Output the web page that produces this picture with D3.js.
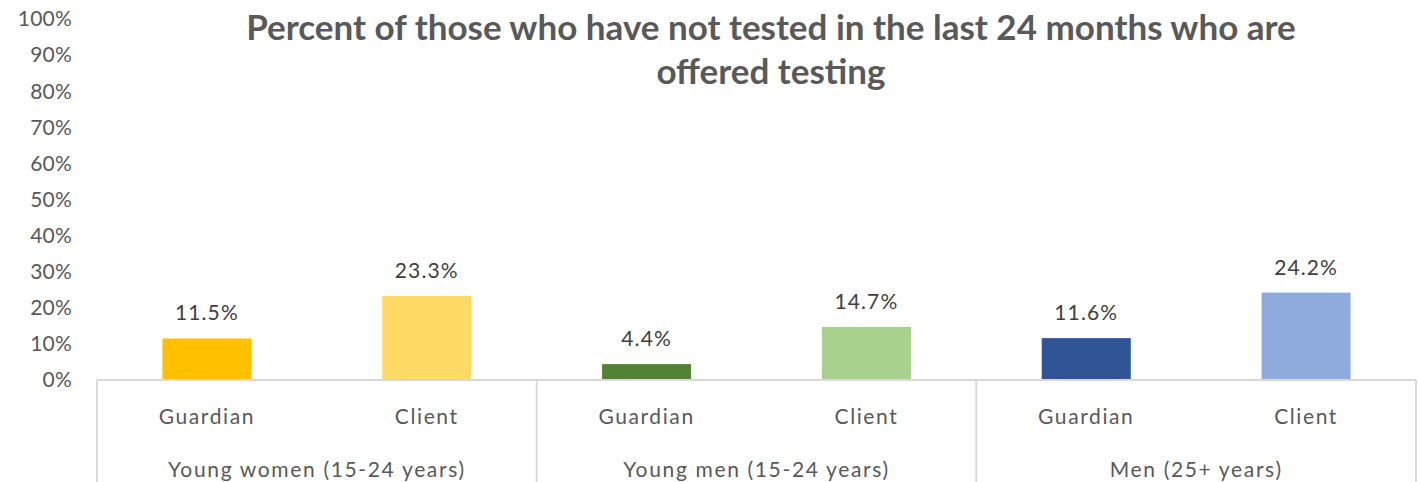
<!DOCTYPE html>
<html>
<head>
<meta charset="utf-8">
<script src="https://cdn.jsdelivr.net/npm/d3@7"></script>
<style>
  body { margin: 0; background: #fff; }
  svg text { font-family: Lato, "Open Sans", sans-serif; }
</style>
</head>
<body>
<svg id="chart" width="1419" height="482"></svg>
<script>
// chart data
const groups = ['Young women (15-24 years)', 'Young men (15-24 years)', 'Men (25+ years)'];
const roles = ['Guardian', 'Client'];
const values = [11.5, 23.3, 4.4, 14.7, 11.6, 24.2];
const colors = ['#FFC000', '#FFD966', '#548235', '#A9D18E', '#2F5597', '#8FAADC'];
const yTicks = [0, 10, 20, 30, 40, 50, 60, 70, 80, 90, 100];
const titleLines = ['Percent of those who have not tested in the last 24 months who are', 'offered testing'];

const svg = d3.select('#chart');
const plotLeft = 97, plotRight = 1416, plotTop = 19, base = 380;

const x0 = d3.scaleBand().domain(groups).range([plotLeft, plotRight]);
const x1 = d3.scaleBand().domain(roles).range([0, x0.bandwidth()]).paddingInner(0.595).paddingOuter(0.2975);
const y = d3.scaleLinear().domain([0, 100]).range([base, plotTop]);

// y tick labels (no axis line)
svg.append('g').selectAll('text')
    .data(yTicks)
    .join('text')
    .attr('x', 72)
    .attr('y', d => y(d))
    .attr('dy', '0.35em')
    .attr('text-anchor', 'end')
    .attr('fill', '#595959')
    .attr('font-size', 21)
    .attr('letter-spacing', 0.2)
    .text(d => d + '%');

// bars
const rows = values.map((v, i) => ({
    group: groups[Math.floor(i / 2)],
    role: roles[i % 2],
    value: v,
    color: colors[i]
}));

const bars = svg.append('g');
bars.selectAll('rect')
    .data(rows)
    .join('rect')
    .attr('x', d => x0(d.group) + x1(d.role))
    .attr('y', d => y(d.value))
    .attr('width', x1.bandwidth())
    .attr('height', d => base - y(d.value))
    .attr('fill', d => d.color);

bars.selectAll('text')
    .data(rows)
    .join('text')
    .attr('x', d => x0(d.group) + x1(d.role) + x1.bandwidth() / 2)
    .attr('y', d => y(d.value) - 18)
    .attr('text-anchor', 'middle')
    .attr('fill', '#404040')
    .attr('font-size', 21)
    .attr('letter-spacing', 1.1)
    .text(d => d.value.toFixed(1) + '%');

// category axis: baseline and dividers
const axis = svg.append('g').attr('stroke', '#D9D9D9').attr('stroke-width', 2);
axis.append('line').attr('x1', plotLeft).attr('x2', plotRight).attr('y1', base).attr('y2', base);
axis.selectAll('line.div')
    .data([...groups.map(g => x0(g)), plotRight])
    .join('line')
    .attr('class', 'div')
    .attr('x1', d => d).attr('x2', d => d)
    .attr('y1', base).attr('y2', 482);

svg.append('g').selectAll('text')
    .data(rows)
    .join('text')
    .attr('x', d => x0(d.group) + x1(d.role) + x1.bandwidth() / 2)
    .attr('y', 424)
    .attr('text-anchor', 'middle')
    .attr('fill', '#595959')
    .attr('font-size', 21)
    .attr('letter-spacing', 1.6)
    .text(d => d.role);

svg.append('g').selectAll('text')
    .data(groups)
    .join('text')
    .attr('x', d => x0(d) + x0.bandwidth() / 2)
    .attr('y', 477)
    .attr('text-anchor', 'middle')
    .attr('fill', '#595959')
    .attr('font-size', 21)
    .attr('letter-spacing', 1.65)
    .text(d => d);

// title
svg.append('g').selectAll('text')
    .data(titleLines)
    .join('text')
    .attr('x', 771)
    .attr('y', (d, i) => 40 + i * 44)
    .attr('text-anchor', 'middle')
    .attr('fill', '#595959')
    .attr('font-size', 35)
    .attr('font-weight', 'bold')
    .text(d => d);
</script>
</body>
</html>
